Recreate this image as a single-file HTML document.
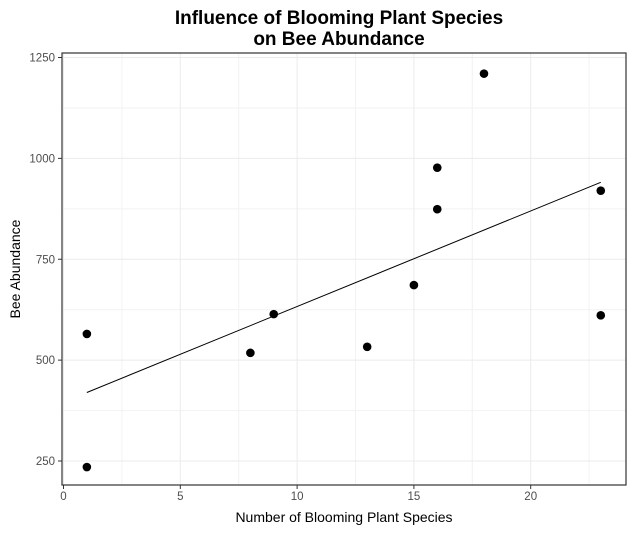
<!DOCTYPE html>
<html><head><meta charset="utf-8"><style>
body{margin:0;background:#fff;}
svg text{font-family:"Liberation Sans",sans-serif;}
</style></head><body>
<svg id="chart" width="634" height="532" xmlns="http://www.w3.org/2000/svg">
<rect width="634" height="532" fill="#fff"/>
<text x="339" y="24" text-anchor="middle" font-size="19" font-weight="bold">Influence of Blooming Plant Species</text>
<text x="339" y="45" text-anchor="middle" font-size="19" font-weight="bold">on Bee Abundance</text>
<g id="grid"></g><g id="marks"></g><g id="axes"></g>
<text x="344" y="522" text-anchor="middle" font-size="14">Number of Blooming Plant Species</text>
<text transform="translate(20,269) rotate(-90)" text-anchor="middle" font-size="14">Bee Abundance</text>
</svg>
<script>
const speciesX=[1,1,8,9,13,15,16,16,18,23,23];
const beeY=[565,235,518,614,533,686,977,874,1210,920,611];
const xTicks=[0,5,10,15,20];
const yTicks=[250,500,750,1000,1250];
const NS="http://www.w3.org/2000/svg";
const L=62,R=626,T=53,B=485;
const sx=v=>63.5+v*23.36;
const sy=v=>461-(v-250)*0.4035;
function mk(t,a,p){const e=document.createElementNS(NS,t);for(const k in a)e.setAttribute(k,a[k]);p.appendChild(e);return e;}
const grid=document.getElementById('grid'),marks=document.getElementById('marks'),axes=document.getElementById('axes');
// minor grid
for(let i=0;i<xTicks.length;i++){const v=xTicks[i]+2.5;if(sx(v)<R){const g=mk('line',{x1:sx(v),x2:sx(v),y1:T,y2:B,stroke:'#f2f2f2','stroke-width':1},grid);}}
for(let i=0;i<yTicks.length-1;i++){const v=yTicks[i]+125;const g=mk('line',{x1:L,x2:R,y1:sy(v),y2:sy(v),stroke:'#f2f2f2','stroke-width':1},grid);}
xTicks.forEach(v=>{const g=mk('line',{x1:sx(v),x2:sx(v),y1:T,y2:B,stroke:'#ebebeb','stroke-width':1},grid);
const t=mk('line',{x1:sx(v),x2:sx(v),y1:B,y2:B+4,stroke:'#333'},axes);
const l=mk('text',{x:sx(v),y:B+15,'text-anchor':'middle','font-size':11.5,fill:'#4d4d4d'},axes);l.textContent=v;});
yTicks.forEach(v=>{const g=mk('line',{x1:L,x2:R,y1:sy(v),y2:sy(v),stroke:'#ebebeb','stroke-width':1},grid);
const t=mk('line',{x1:L-4,x2:L,y1:sy(v),y2:sy(v),stroke:'#333'},axes);
const l=mk('text',{x:L-7,y:sy(v)+4,'text-anchor':'end','font-size':11.5,fill:'#4d4d4d'},axes);l.textContent=v;});
const border=mk('rect',{x:L,y:T,width:R-L,height:B-T,fill:'none',stroke:'#333','stroke-width':1.2},axes);

// regression
const n=speciesX.length,mx=speciesX.reduce((a,b)=>a+b)/n,my=beeY.reduce((a,b)=>a+b)/n;
let sxy=0,sxx=0;for(let i=0;i<n;i++){sxy+=(speciesX[i]-mx)*(beeY[i]-my);sxx+=(speciesX[i]-mx)**2;}
const b=sxy/sxx,a=my-b*mx,x0=Math.min(...speciesX),x1=Math.max(...speciesX);
const ln=mk('line',{x1:sx(x0),y1:sy(a+b*x0),x2:sx(x1),y2:sy(a+b*x1),stroke:'#000','stroke-width':1},marks);

for(let i=0;i<n;i++){const c=mk('circle',{cx:sx(speciesX[i]),cy:sy(beeY[i]),r:4.3,fill:'#000'},marks);
}
</script>
</body></html>
